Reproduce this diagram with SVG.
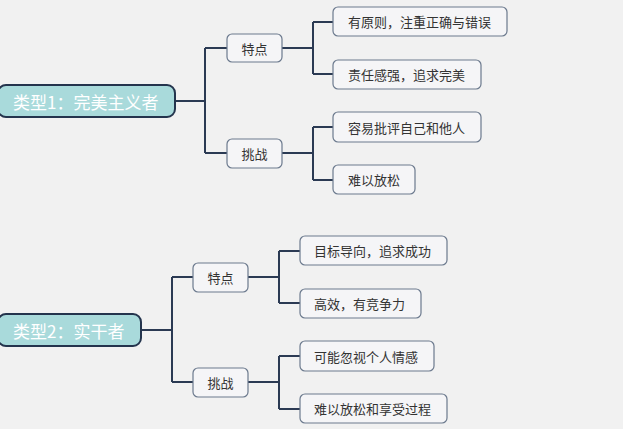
<svg xmlns="http://www.w3.org/2000/svg" width="623" height="429" viewBox="0 0 623 429">
<style>
.root rect{fill:#a9dadb;stroke:#24344d;stroke-width:2}
.root text{fill:#ffffff;font-family:"Noto Sans CJK SC","Noto Sans",sans-serif;font-size:17px;dominant-baseline:central}
.sub rect{fill:#f5f5f7;stroke:#6c7a8e;stroke-width:1.2}
.sub text{fill:#333333;font-family:"Noto Sans CJK SC","Noto Sans",sans-serif;font-size:13px;dominant-baseline:central;text-anchor:middle}
.leaf rect{fill:#f5f5f7;stroke:#6c7a8e;stroke-width:1.2}
.leaf text{fill:#333333;font-family:"Noto Sans CJK SC","Noto Sans",sans-serif;font-size:13px;dominant-baseline:central}
.conn path{fill:none;stroke:#2b3a53;stroke-width:2}
</style>
<rect width="623" height="429" fill="#f1f1f1"/>
<g class="conn">
<path d="M175 101H205M205 48V153M205 48H227M205 153H227"/>
<path d="M282 48H313M313 22V74M313 22H333M313 74H333"/>
<path d="M282 153H313M313 127V180M313 127H333M313 180H333"/>
<path d="M141 330H172M172 277V382M172 277H193M172 382H193"/>
<path d="M248 277H279M279 251V303M279 251H300M279 303H300"/>
<path d="M248 382H279M279 356V409M279 356H300M279 409H300"/>
</g>
<g id="root1" class="root"><rect x="-2" y="85" width="177" height="32" rx="8"/><text x="13" y="101">类型1：完美主义者</text></g>
<g id="t1" class="sub"><rect x="227" y="34" width="55" height="28" rx="5"/><text x="254.5" y="48">特点</text></g>
<g id="c1" class="sub"><rect x="227" y="139" width="55" height="29" rx="5"/><text x="254.5" y="153.5">挑战</text></g>
<g id="l1" class="leaf"><rect x="333" y="7" width="174" height="29" rx="5"/><text x="348" y="21.5">有原则，注重正确与错误</text></g>
<g id="l2" class="leaf"><rect x="333" y="60" width="148" height="29" rx="5"/><text x="348" y="74.5">责任感强，追求完美</text></g>
<g id="l3" class="leaf"><rect x="333" y="112" width="148" height="30" rx="5"/><text x="348" y="127">容易批评自己和他人</text></g>
<g id="l4" class="leaf"><rect x="333" y="165" width="82" height="29" rx="5"/><text x="348" y="179.5">难以放松</text></g>
<g id="root2" class="root"><rect x="-2" y="314" width="143" height="32" rx="8"/><text x="13" y="330">类型2：实干者</text></g>
<g id="t2" class="sub"><rect x="193" y="263" width="55" height="29" rx="5"/><text x="220.5" y="277.5">特点</text></g>
<g id="c2" class="sub"><rect x="193" y="368" width="55" height="29" rx="5"/><text x="220.5" y="382.5">挑战</text></g>
<g id="m1" class="leaf"><rect x="300" y="236" width="147" height="29" rx="5"/><text x="314" y="250.5">目标导向，追求成功</text></g>
<g id="m2" class="leaf"><rect x="300" y="289" width="121" height="29" rx="5"/><text x="314" y="303.5">高效，有竞争力</text></g>
<g id="m3" class="leaf"><rect x="300" y="341" width="134" height="30" rx="5"/><text x="314" y="356">可能忽视个人情感</text></g>
<g id="m4" class="leaf"><rect x="300" y="394" width="147" height="29" rx="5"/><text x="314" y="408.5">难以放松和享受过程</text></g>
</svg>
